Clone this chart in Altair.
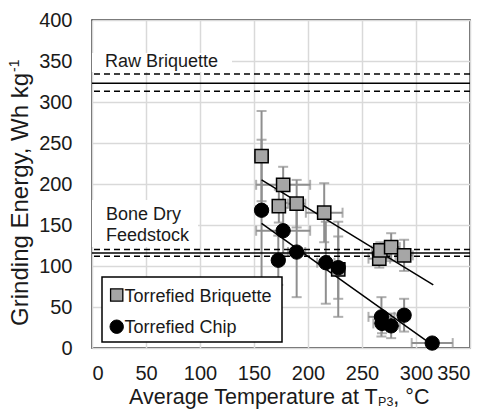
import altair as alt
import pandas as pd

# ---------------- data ----------------
series = ["Torrefied Briquette", "Torrefied Chip"]

brq_temp = [157, 173, 177, 189.5, 215, 228, 266, 267, 277, 289]
brq_energy = [234, 173, 199, 176, 165, 96, 109, 119, 123, 113]
brq_temp_err = [6, 5, 25, 8, 17, 5, 10, 8, 8, 8]
brq_energy_err = [55, 20, 22, 29, 36, 58, 11, 10, 17, 19]

chip_temp = [157, 172.5, 177, 189.5, 216.5, 228, 268, 268.5, 277, 289, 315]
chip_energy = [168, 107, 143, 117, 104, 98, 38, 30, 27, 40, 6]
chip_temp_err = [5, 5, 25, 8, 8, 6, 12, 8, 8, 5, 19]
chip_energy_err = [86, 30, 28, 55, 50, 38, 24, 12, 15, 20, 5]

brq_fit_temp = [157, 316]
brq_fit_energy = [205, 77]
chip_fit_temp = [157, 316]
chip_fit_energy = [152, 3]

raw_briquette = [323, 313, 334]      # mean, lower, upper
bone_dry = [116, 112, 120]           # mean, lower, upper
raw_label = ["Raw Briquette"]
bone_label = ["Bone Dry", "Feedstock"]

x_ticks = [0, 50, 100, 150, 200, 250, 300, 350]
y_ticks = [0, 50, 100, 150, 200, 250, 300, 350, 400]
x_title_parts = ["Average Temperature at T", "P3", ", °C"]
y_title_parts = ["Grinding Energy, Wh kg", "-1"]

# ---------------- styling ----------------
FONT = "Liberation Sans"
TXT = "#1a1a1a"
GRAY = "#8f8f8f"
SQ_FILL = "#a6a6a6"
W, H = 378, 328

ARIAL = {" ": 278, ",": 278, "-": 333, "°": 400, "A": 667, "B": 667, "C": 722,
         "D": 722, "E": 667, "F": 611, "G": 778, "P": 667, "T": 611, "W": 944,
         "R": 722, "a": 556, "b": 556, "c": 500, "d": 556, "e": 556, "f": 278,
         "g": 556, "h": 556, "i": 222, "k": 500, "l": 222, "m": 833, "n": 556,
         "o": 556, "p": 556, "q": 556, "r": 333, "s": 500, "t": 278, "u": 556,
         "v": 500, "w": 722, "y": 500}


def text_width(s, size):
    return sum(ARIAL.get(ch, 556) for ch in s) * size / 1000.0


xs = alt.Scale(domain=[0, 350], nice=False)
ys = alt.Scale(domain=[0, 400], nice=False)

x_axis = alt.Axis(values=x_ticks, grid=True, gridColor="#d9d9d9", gridWidth=1.5,
                  ticks=False, tickSize=0, domain=False, labelFont=FONT,
                  labelFontSize=20, labelColor=TXT, labelPadding=15, title=None)
y_axis = alt.Axis(values=y_ticks, grid=True, gridColor="#d9d9d9", gridWidth=1.5,
                  ticks=False, tickSize=0, domain=False, labelFont=FONT,
                  labelFontSize=20, labelColor=TXT, labelPadding=20, title=None)

brq = pd.DataFrame({"temp": brq_temp, "energy": brq_energy,
                    "terr": brq_temp_err, "eerr": brq_energy_err})
chip = pd.DataFrame({"temp": chip_temp, "energy": chip_energy,
                     "terr": chip_temp_err, "eerr": chip_energy_err})


def error_layers(df):
    base = alt.Chart(df).transform_calculate(
        e_lo="datum.energy - datum.eerr", e_hi="datum.energy + datum.eerr",
        t_lo="datum.temp - datum.terr", t_hi="datum.temp + datum.terr")
    v = base.mark_rule(color=GRAY, strokeWidth=2).encode(
        x=alt.X("temp:Q", scale=xs, axis=x_axis),
        y=alt.Y("e_lo:Q", scale=ys, axis=y_axis), y2="e_hi:Q")
    h = base.mark_rule(color=GRAY, strokeWidth=2).encode(
        x=alt.X("t_lo:Q", scale=xs), x2="t_hi:Q", y=alt.Y("energy:Q", scale=ys))
    cap_t = base.mark_tick(color=GRAY, orient="horizontal", size=10, thickness=2).encode(
        x=alt.X("temp:Q", scale=xs), y=alt.Y("e_hi:Q", scale=ys))
    cap_b = base.mark_tick(color=GRAY, orient="horizontal", size=10, thickness=2).encode(
        x=alt.X("temp:Q", scale=xs), y=alt.Y("e_lo:Q", scale=ys))
    cap_l = base.mark_tick(color=GRAY, orient="vertical", size=10, thickness=2).encode(
        x=alt.X("t_lo:Q", scale=xs), y=alt.Y("energy:Q", scale=ys))
    cap_r = base.mark_tick(color=GRAY, orient="vertical", size=10, thickness=2).encode(
        x=alt.X("t_hi:Q", scale=xs), y=alt.Y("energy:Q", scale=ys))
    return [v, h, cap_t, cap_b, cap_l, cap_r]


def ref_lines(vals):
    mean = alt.Chart(pd.DataFrame({"v": [vals[0]]})).mark_rule(
        color="black", strokeWidth=1.5).encode(y=alt.Y("v:Q", scale=ys))
    bounds = alt.Chart(pd.DataFrame({"v": vals[1:]})).mark_rule(
        color="black", strokeWidth=1.5, strokeDash=[6, 4]).encode(y=alt.Y("v:Q", scale=ys))
    return [mean, bounds]


def white_box(x1, y1, x2, y2):
    return alt.Chart(pd.DataFrame({"k": [0]})).mark_rect(fill="white").encode(
        x=alt.value(x1), x2=alt.value(x2), y=alt.value(y1), y2=alt.value(y2))


def label(text, x, y, size=18, align="left", baseline="alphabetic", angle=0, color=TXT):
    kw = dict(font=FONT, fontSize=size, align=align, baseline=baseline, color=color)
    if angle:
        kw["angle"] = angle
    return alt.Chart(pd.DataFrame({"t": [text]})).mark_text(**kw).encode(
        text="t:N", x=alt.value(x), y=alt.value(y))


annot = [
    white_box(0, 33, 140, 52),
    white_box(0, 180, 106, 227),
    label(raw_label[0], 13, 47),
    label(bone_label[0], 14, 200),
    label(bone_label[1], 14, 221),
]

fit_brq = alt.Chart(pd.DataFrame({"temp": brq_fit_temp, "energy": brq_fit_energy})).mark_line(
    color="black", strokeWidth=1.5).encode(x=alt.X("temp:Q", scale=xs), y=alt.Y("energy:Q", scale=ys))
fit_chip = alt.Chart(pd.DataFrame({"temp": chip_fit_temp, "energy": chip_fit_energy})).mark_line(
    color="black", strokeWidth=1.5).encode(x=alt.X("temp:Q", scale=xs), y=alt.Y("energy:Q", scale=ys))

pts_brq = alt.Chart(brq).mark_point(shape="square", size=175, filled=True, fill=SQ_FILL,
                                    stroke="black", strokeWidth=1.5, opacity=1).encode(
    x=alt.X("temp:Q", scale=xs), y=alt.Y("energy:Q", scale=ys))
pts_chip = alt.Chart(chip).mark_point(shape="circle", size=205, filled=True, fill="black",
                                      stroke="black", strokeWidth=1, opacity=1).encode(
    x=alt.X("temp:Q", scale=xs), y=alt.Y("energy:Q", scale=ys))

leg_box = alt.Chart(pd.DataFrame({"k": [0]})).mark_rect(
    fill="white", stroke="black", strokeWidth=1.5).encode(
    x=alt.value(10), x2=alt.value(190), y=alt.value(257), y2=alt.value(322))
leg_sq = alt.Chart(pd.DataFrame({"s": [series[0]]})).mark_point(
    shape="square", size=150, filled=True, fill=SQ_FILL, stroke="black",
    strokeWidth=1.3, opacity=1).encode(x=alt.value(24.7), y=alt.value(275))
leg_ci = alt.Chart(pd.DataFrame({"s": [series[1]]})).mark_point(
    shape="circle", size=180, filled=True, fill="black", stroke="black",
    strokeWidth=1, opacity=1).encode(x=alt.value(24.7), y=alt.value(306.7))
leg_t1 = label(series[0], 32.5, 281.5)
leg_t2 = label(series[1], 32.5, 313)

# x title: main part right-aligned at a join point, subscript and rest left-aligned
XT, XS = 21.5, 12.5
xw_main = text_width(x_title_parts[0], XT) * 0.95
xw_sub = text_width(x_title_parts[1], XS)
xw_end = text_width(x_title_parts[2], XT)
xjoin = 191.5 - (xw_main + xw_sub + xw_end) / 2 + xw_main
x_title = [
    label(x_title_parts[0], xjoin, 384, size=XT, align="right"),
    label(x_title_parts[1], xjoin + 0.5, 386, size=XS),
    label(x_title_parts[2], xjoin + 0.5 + xw_sub, 384, size=XT),
]

# y title: rotated, main part ends at join point, superscript continues upwards
YT, YS = 24, 14
yw_main = text_width(y_title_parts[0], YT) * 0.98
yw_sup = text_width(y_title_parts[1], YS)
yjoin = 171.5 + (yw_main + yw_sup) / 2 - yw_main
y_title = [
    label(y_title_parts[0], -64.5, yjoin, size=YT, angle=270, align="right"),
    label(y_title_parts[1], -73, yjoin - 1, size=YS, angle=270, align="left"),
]

layers = (error_layers(brq) + error_layers(chip) + ref_lines(raw_briquette)
          + ref_lines(bone_dry) + annot + [fit_brq, fit_chip, pts_brq, pts_chip]
          + [leg_box, leg_sq, leg_ci, leg_t1, leg_t2] + x_title + y_title)

chart = alt.layer(*layers).properties(
    width=W, height=H,
    autosize=alt.AutoSizeParams(type="none"),
    padding={"left": 92, "top": 20, "right": 19, "bottom": 61},
    background="white",
).configure_view(stroke="#262626", strokeWidth=1.5)

chart.save("out.html", embed_options={"renderer": "svg", "actions": False})
